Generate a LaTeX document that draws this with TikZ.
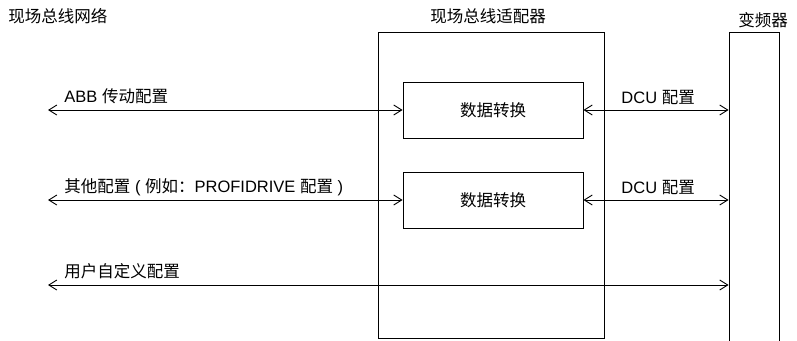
\documentclass[tikz,border=0pt]{standalone}
\usepackage{fontspec}
\setmainfont{Liberation Sans}
\newfontfamily\cjk{Noto Sans CJK SC}
\usetikzlibrary{arrows.meta, positioning}

\begin{document}
\begin{tikzpicture}[
      x=1pt, y=-1pt, line width=0.9pt,
      font=\fontsize{16.5}{19}\selectfont,
      box/.style={draw, minimum width=180pt, minimum height=56pt, inner sep=0pt},
      lbl/.style={anchor=base west, inner sep=0pt},
      title/.style={inner sep=0pt},
      link/.style={{Straight Barb[length=8pt,width=10pt]}-{Straight Barb[length=8pt,width=10pt]}}
    ]
    \clip (0,0) rectangle (797,340);
    % outer blocks
    \node[draw, minimum width=226pt, minimum height=306pt] (adapter) at (491,185) {};
    \node[draw, minimum width=50pt, minimum height=320pt, anchor=north] (drive) at (754,32) {};
    \node[box] (conv1) at (493,110) {\cjk 数据转换};
    \node[box] (conv2) at (493,200) {\cjk 数据转换};

    % titles
    \node[title, anchor=west] (tnet) at (8,16) {\cjk 现场总线网络};
    \node[title] (tadapter) at (488,16) {\cjk 现场总线适配器};
    \node[title] (tdrive) at (763,20) {\cjk 变频器};

    % free ends on the fieldbus side
    \coordinate (net1) at (48,110);
    \coordinate (net2) at (48,200);
    \coordinate (net3) at (48,285);

    \draw[link] (net1) -- (conv1);
    \draw[link] (conv1) -- (conv1 -| drive.west);
    \draw[link] (net2) -- (conv2);
    \draw[link] (conv2) -- (conv2 -| drive.west);
    \draw[link] (net3) -- (net3 -| drive.west);

    % labels
    \node[lbl] (l1) at (64,102) {ABB {\cjk 传动配置}};
    \node[lbl] (d1) at (621,103) {DCU {\cjk 配置}};
    \node[lbl] (l2) at (64,192) {{\cjk 其他配置} ( {\cjk 例如：}PROFIDRIVE {\cjk 配置} )};
    \node[lbl] (d2) at (621,193) {DCU {\cjk 配置}};
    \node[lbl] (l3) at (64,277) {\cjk 用户自定义配置};
  \end{tikzpicture}
\end{document}
